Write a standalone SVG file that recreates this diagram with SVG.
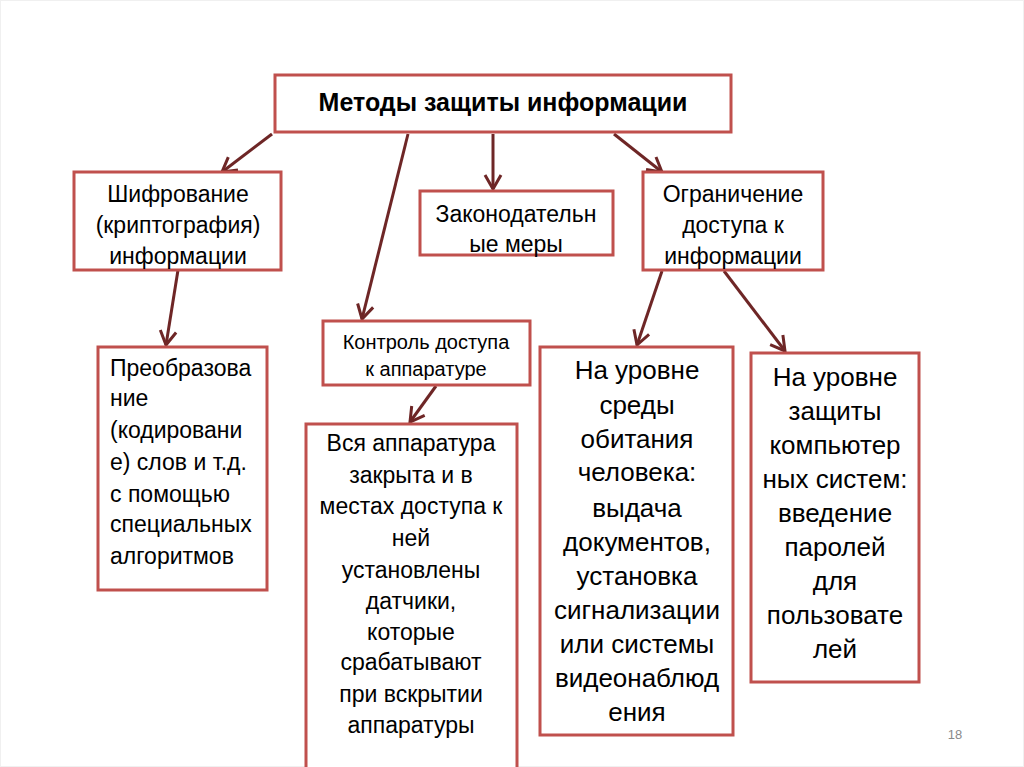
<svg xmlns="http://www.w3.org/2000/svg" width="1024" height="767" viewBox="0 0 1024 767">
<style>
.box{fill:#fff;stroke:#c0504d;stroke-width:3}
.t{font-family:"Liberation Sans",Arial,sans-serif;fill:#000;text-anchor:middle}
.l{text-anchor:start}
.c{stroke:#6e2626;stroke-width:3;fill:none}
</style>
<defs>
<marker id="ah" markerUnits="userSpaceOnUse" viewBox="0 0 20 20" refX="18" refY="10" markerWidth="20" markerHeight="20" orient="auto">
<path d="M4,2 L18,10 L4,18" fill="none" stroke="#6e2626" stroke-width="3"/>
</marker>
</defs>
<rect x="0.5" y="0.5" width="1023" height="766" fill="#fff" stroke="#f0f0f0"/>
<g id="connectors">
<line class="c" x1="272" y1="134" x2="222" y2="172" marker-end="url(#ah)"/>
<line class="c" x1="408" y1="134" x2="362" y2="319" marker-end="url(#ah)"/>
<line class="c" x1="493" y1="134" x2="493" y2="189" marker-end="url(#ah)"/>
<line class="c" x1="614" y1="134" x2="662" y2="172" marker-end="url(#ah)"/>
<line class="c" x1="178" y1="270" x2="166" y2="345" marker-end="url(#ah)"/>
<line class="c" x1="436" y1="386" x2="410" y2="422" marker-end="url(#ah)"/>
<line class="c" x1="662" y1="271" x2="637" y2="345" marker-end="url(#ah)"/>
<line class="c" x1="724" y1="271" x2="785" y2="351" marker-end="url(#ah)"/>
</g>
<g id="root">
<rect class="box" x="275" y="75" width="456" height="57"/>
<text class="t" x="503" y="111" font-size="25" font-weight="bold">Методы защиты информации</text>
</g>
<g id="cipher">
<rect class="box" x="74" y="172" width="207" height="98"/>
<text class="t" font-size="23"><tspan x="178" y="202">Шифрование</tspan><tspan x="178" y="233">(криптография)</tspan><tspan x="178" y="264">информации</tspan></text>
</g>
<g id="law">
<rect class="box" x="420" y="191" width="193" height="64"/>
<text class="t" font-size="23"><tspan x="516" y="222">Законодательн</tspan><tspan x="516" y="252">ые меры</tspan></text>
</g>
<g id="restrict">
<rect class="box" x="643" y="172" width="180" height="98"/>
<text class="t" font-size="23"><tspan x="733" y="202">Ограничение</tspan><tspan x="733" y="233">доступа к</tspan><tspan x="733" y="264">информации</tspan></text>
</g>
<g id="hwcontrol">
<rect class="box" x="323" y="321" width="207" height="64"/>
<text class="t" font-size="20"><tspan x="426" y="349">Контроль доступа</tspan><tspan x="426" y="376">к аппаратуре</tspan></text>
</g>
<g id="transform">
<rect class="box" x="98" y="347" width="169" height="243"/>
<text class="t l" font-size="23"><tspan x="110" y="376">Преобразова</tspan><tspan x="110" y="406">ние</tspan><tspan x="110" y="438">(кодировани</tspan><tspan x="110" y="470">е) слов и т.д.</tspan><tspan x="110" y="502">с помощью</tspan><tspan x="110" y="532">специальных</tspan><tspan x="110" y="564">алгоритмов</tspan></text>
</g>
<g id="hardware">
<rect class="box" x="306" y="424" width="211" height="350"/>
<text class="t" font-size="23"><tspan x="411" y="451">Вся аппаратура</tspan><tspan x="411" y="483">закрыта и в</tspan><tspan x="411" y="514">местах доступа к</tspan><tspan x="411" y="546">ней</tspan><tspan x="411" y="578">установлены</tspan><tspan x="411" y="609">датчики,</tspan><tspan x="411" y="640">которые</tspan><tspan x="411" y="670">срабатывают</tspan><tspan x="411" y="702">при вскрытии</tspan><tspan x="411" y="733">аппаратуры</tspan></text>
</g>
<g id="habitat">
<rect class="box" x="540" y="347" width="193" height="388"/>
<text class="t" font-size="26"><tspan x="637" y="379">На уровне</tspan><tspan x="637" y="414">среды</tspan><tspan x="637" y="448">обитания</tspan><tspan x="637" y="481">человека:</tspan><tspan x="637" y="517">выдача</tspan><tspan x="637" y="551">документов,</tspan><tspan x="637" y="585">установка</tspan><tspan x="637" y="619">сигнализации</tspan><tspan x="637" y="653">или системы</tspan><tspan x="637" y="687">видеонаблюд</tspan><tspan x="637" y="721">ения</tspan></text>
</g>
<g id="computer">
<rect class="box" x="751" y="353" width="168" height="329"/>
<text class="t" font-size="26"><tspan x="835" y="386">На уровне</tspan><tspan x="835" y="420">защиты</tspan><tspan x="835" y="454">компьютер</tspan><tspan x="835" y="488">ных систем:</tspan><tspan x="835" y="522">введение</tspan><tspan x="835" y="556">паролей</tspan><tspan x="835" y="590">для</tspan><tspan x="835" y="624">пользовате</tspan><tspan x="835" y="658">лей</tspan></text>
</g>
<text class="t" x="955" y="739" font-size="13" style="fill:#8a8a8a">18</text>
</svg>
